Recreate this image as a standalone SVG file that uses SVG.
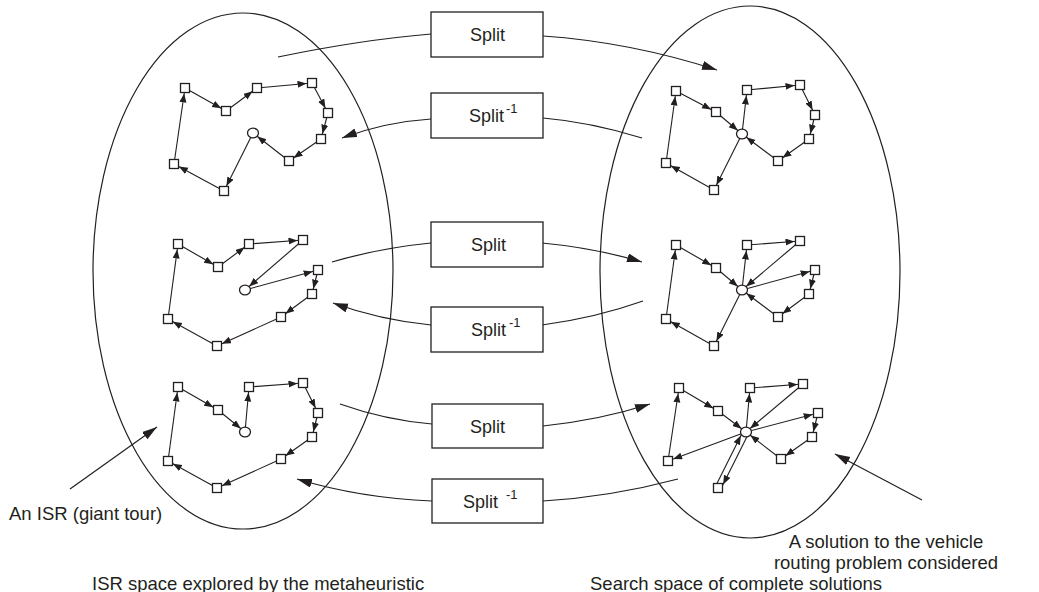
<svg xmlns="http://www.w3.org/2000/svg" width="1039" height="592" viewBox="0 0 1039 592">
<style>
  .ell { fill: none; stroke: #231f20; stroke-width: 1.2; }
  .box { fill: #fff; stroke: #231f20; stroke-width: 1.3; }
  .big { fill: none; stroke: #231f20; stroke-width: 1.2; }
  .e { stroke: #231f20; stroke-width: 1.1; marker-end: url(#ah); }
  .n { fill: #fff; stroke: #231f20; stroke-width: 1.3; }
  text { font-family: "Liberation Sans", Arial, sans-serif; fill: #231f20; }
  .lbl { font-size: 18px; }
  .cap { font-size: 18.5px; }
  .sup { font-size: 13px; }
</style>
<defs>
  <marker id="ah" markerWidth="16" markerHeight="8" refX="14.5" refY="3.5" orient="auto" markerUnits="userSpaceOnUse">
    <path d="M0,0 L9,3.5 L0,7 z" fill="#231f20"/>
  </marker>
  <marker id="big" markerWidth="16" markerHeight="10" refX="15" refY="4.5" orient="auto" markerUnits="userSpaceOnUse">
    <path d="M0,0 L15,4.5 L0,9 z" fill="#231f20"/>
  </marker>
</defs>
<rect width="1039" height="592" fill="#fff"/>

<g id="isr-space"><ellipse class="ell" cx="243" cy="271" rx="150" ry="258"/></g>
<g id="solution-space"><ellipse class="ell" cx="750" cy="272" rx="150" ry="266"/></g>

<g id="connectors">
  <!-- big curved arrows -->
  <path class="big" d="M278,57 Q360,40 431,34"/>
  <path class="big" d="M543,36 Q630,42 717,70" marker-end="url(#big)"/>
  <path class="big" d="M642,138 Q590,122 543,118"/>
  <path class="big" d="M431,119 Q385,122 342,138" marker-end="url(#big)"/>
  <path class="big" d="M332,262 Q380,248 431,243"/>
  <path class="big" d="M542,243 Q595,248 642,262" marker-end="url(#big)"/>
  <path class="big" d="M643,301 Q595,318 542,325"/>
  <path class="big" d="M431,325 Q380,320 333,303" marker-end="url(#big)"/>
  <path class="big" d="M340,404 Q385,420 432,424"/>
  <path class="big" d="M543,426 Q600,420 650,404" marker-end="url(#big)"/>
  <path class="big" d="M678,479 Q610,497 543,501"/>
  <path class="big" d="M432,501 Q360,498 297,479" marker-end="url(#big)"/>
  <line class="big" x1="70" y1="489" x2="157" y2="427" marker-end="url(#big)"/>
  <line class="big" x1="922" y1="500" x2="835" y2="454" marker-end="url(#big)"/>

  <!-- left tour 1 -->
  <line class="e" x1="185" y1="88" x2="226" y2="111"/>
  <line class="e" x1="226" y1="111" x2="257" y2="88"/>
  <line class="e" x1="257" y1="88" x2="312" y2="83"/>
  <line class="e" x1="312" y1="83" x2="328" y2="113"/>
  <line class="e" x1="328" y1="113" x2="321" y2="139"/>
  <line class="e" x1="321" y1="139" x2="289" y2="161"/>
  <line class="e" x1="289" y1="161" x2="253" y2="133"/>
  <line class="e" x1="253" y1="133" x2="224" y2="191"/>
  <line class="e" x1="224" y1="191" x2="174" y2="164"/>
  <line class="e" x1="174" y1="164" x2="185" y2="88"/>
  <!-- left tour 2 -->
  <line class="e" x1="178" y1="244" x2="218" y2="267"/>
  <line class="e" x1="218" y1="267" x2="249" y2="244"/>
  <line class="e" x1="249" y1="244" x2="303" y2="240"/>
  <line class="e" x1="303" y1="240" x2="245" y2="290"/>
  <line class="e" x1="245" y1="290" x2="318" y2="270"/>
  <line class="e" x1="318" y1="270" x2="312" y2="294"/>
  <line class="e" x1="312" y1="294" x2="281" y2="317"/>
  <line class="e" x1="281" y1="317" x2="217" y2="346"/>
  <line class="e" x1="217" y1="346" x2="168" y2="319"/>
  <line class="e" x1="168" y1="319" x2="178" y2="244"/>
  <!-- left tour 3 -->
  <line class="e" x1="178" y1="387" x2="218" y2="410"/>
  <line class="e" x1="218" y1="410" x2="245" y2="432"/>
  <line class="e" x1="245" y1="432" x2="249" y2="387"/>
  <line class="e" x1="249" y1="387" x2="303" y2="383"/>
  <line class="e" x1="303" y1="383" x2="318" y2="413"/>
  <line class="e" x1="318" y1="413" x2="312" y2="437"/>
  <line class="e" x1="312" y1="437" x2="281" y2="459"/>
  <line class="e" x1="281" y1="459" x2="217" y2="488"/>
  <line class="e" x1="217" y1="488" x2="168" y2="461"/>
  <line class="e" x1="168" y1="461" x2="178" y2="387"/>
  <!-- right tour 1 -->
  <line class="e" x1="676" y1="91" x2="716" y2="112"/>
  <line class="e" x1="716" y1="112" x2="742" y2="134"/>
  <line class="e" x1="742" y1="134" x2="747" y2="90"/>
  <line class="e" x1="747" y1="90" x2="800" y2="85"/>
  <line class="e" x1="800" y1="85" x2="815" y2="115"/>
  <line class="e" x1="815" y1="115" x2="809" y2="139"/>
  <line class="e" x1="809" y1="139" x2="778" y2="161"/>
  <line class="e" x1="778" y1="161" x2="742" y2="134"/>
  <line class="e" x1="742" y1="134" x2="714" y2="190"/>
  <line class="e" x1="714" y1="190" x2="666" y2="163"/>
  <line class="e" x1="666" y1="163" x2="676" y2="91"/>
  <!-- right tour 2 -->
  <line class="e" x1="676" y1="245" x2="716" y2="268"/>
  <line class="e" x1="716" y1="268" x2="742" y2="290"/>
  <line class="e" x1="742" y1="290" x2="747" y2="245"/>
  <line class="e" x1="747" y1="245" x2="800" y2="241"/>
  <line class="e" x1="800" y1="241" x2="742" y2="290"/>
  <line class="e" x1="742" y1="290" x2="815" y2="270"/>
  <line class="e" x1="815" y1="270" x2="809" y2="294"/>
  <line class="e" x1="809" y1="294" x2="778" y2="317"/>
  <line class="e" x1="778" y1="317" x2="742" y2="290"/>
  <line class="e" x1="742" y1="290" x2="714" y2="346"/>
  <line class="e" x1="714" y1="346" x2="666" y2="319"/>
  <line class="e" x1="666" y1="319" x2="676" y2="245"/>
  <!-- right tour 3 -->
  <line class="e" x1="679" y1="388" x2="718" y2="411"/>
  <line class="e" x1="718" y1="411" x2="746" y2="432"/>
  <line class="e" x1="746" y1="432" x2="750" y2="388"/>
  <line class="e" x1="750" y1="388" x2="803" y2="384"/>
  <line class="e" x1="803" y1="384" x2="746" y2="432"/>
  <line class="e" x1="746" y1="432" x2="818" y2="413"/>
  <line class="e" x1="818" y1="413" x2="812" y2="437"/>
  <line class="e" x1="812" y1="437" x2="781" y2="459"/>
  <line class="e" x1="781" y1="459" x2="746" y2="432"/>
  <line class="e" x1="746" y1="432" x2="668" y2="461"/>
  <line class="e" x1="668" y1="461" x2="679" y2="388"/>
  <line class="e" x1="715.3" y1="486.7" x2="743.3" y2="430.7"/>
  <line class="e" x1="748.7" y1="433.3" x2="720.7" y2="489.3"/>
</g>

<g id="split-1">
  <rect class="box" x="431" y="12" width="112" height="45"/>
  <text class="lbl" x="470" y="41">Split</text>
</g>
<g id="split-inv-1">
  <rect class="box" x="431" y="93" width="112" height="45"/>
  <text class="lbl" x="469" y="122">Split<tspan class="sup" x="506" dy="-9">-1</tspan></text>
</g>
<g id="split-2">
  <rect class="box" x="431" y="222" width="112" height="45"/>
  <text class="lbl" x="471" y="251">Split</text>
</g>
<g id="split-inv-2">
  <rect class="box" x="431" y="307" width="112" height="45"/>
  <text class="lbl" x="471" y="336">Split<tspan class="sup" x="509" dy="-9">-1</tspan></text>
</g>
<g id="split-3">
  <rect class="box" x="432" y="404" width="111" height="44"/>
  <text class="lbl" x="470" y="433">Split</text>
</g>
<g id="split-inv-3">
  <rect class="box" x="432" y="479" width="111" height="44"/>
  <text class="lbl" x="463" y="508">Split<tspan class="sup" x="506" dy="-9">-1</tspan></text>
</g>

<g id="tour-L1">
  <rect class="n" x="180.5" y="83.5" width="9" height="9"/>
  <rect class="n" x="221.5" y="106.5" width="9" height="9"/>
  <rect class="n" x="252.5" y="83.5" width="9" height="9"/>
  <rect class="n" x="307.5" y="78.5" width="9" height="9"/>
  <rect class="n" x="323.5" y="108.5" width="9" height="9"/>
  <rect class="n" x="316.5" y="134.5" width="9" height="9"/>
  <rect class="n" x="284.5" y="156.5" width="9" height="9"/>
  <rect class="n" x="219.5" y="186.5" width="9" height="9"/>
  <rect class="n" x="169.5" y="159.5" width="9" height="9"/>
  <ellipse class="n" cx="253" cy="133" rx="5.5" ry="4.8"/>
</g>
<g id="tour-L2">
  <rect class="n" x="173.5" y="239.5" width="9" height="9"/>
  <rect class="n" x="213.5" y="262.5" width="9" height="9"/>
  <rect class="n" x="244.5" y="239.5" width="9" height="9"/>
  <rect class="n" x="298.5" y="235.5" width="9" height="9"/>
  <rect class="n" x="313.5" y="265.5" width="9" height="9"/>
  <rect class="n" x="307.5" y="289.5" width="9" height="9"/>
  <rect class="n" x="276.5" y="312.5" width="9" height="9"/>
  <rect class="n" x="212.5" y="341.5" width="9" height="9"/>
  <rect class="n" x="163.5" y="314.5" width="9" height="9"/>
  <ellipse class="n" cx="245" cy="290" rx="5.5" ry="4.8"/>
</g>
<g id="tour-L3">
  <rect class="n" x="173.5" y="382.5" width="9" height="9"/>
  <rect class="n" x="213.5" y="405.5" width="9" height="9"/>
  <rect class="n" x="244.5" y="382.5" width="9" height="9"/>
  <rect class="n" x="298.5" y="378.5" width="9" height="9"/>
  <rect class="n" x="313.5" y="408.5" width="9" height="9"/>
  <rect class="n" x="307.5" y="432.5" width="9" height="9"/>
  <rect class="n" x="276.5" y="454.5" width="9" height="9"/>
  <rect class="n" x="212.5" y="483.5" width="9" height="9"/>
  <rect class="n" x="163.5" y="456.5" width="9" height="9"/>
  <ellipse class="n" cx="245" cy="432" rx="5.5" ry="4.8"/>
</g>
<g id="tour-R1">
  <rect class="n" x="671.5" y="86.5" width="9" height="9"/>
  <rect class="n" x="711.5" y="107.5" width="9" height="9"/>
  <rect class="n" x="742.5" y="85.5" width="9" height="9"/>
  <rect class="n" x="795.5" y="80.5" width="9" height="9"/>
  <rect class="n" x="810.5" y="110.5" width="9" height="9"/>
  <rect class="n" x="804.5" y="134.5" width="9" height="9"/>
  <rect class="n" x="773.5" y="156.5" width="9" height="9"/>
  <rect class="n" x="709.5" y="185.5" width="9" height="9"/>
  <rect class="n" x="661.5" y="158.5" width="9" height="9"/>
  <ellipse class="n" cx="742" cy="134" rx="5.5" ry="4.8"/>
</g>
<g id="tour-R2">
  <rect class="n" x="671.5" y="240.5" width="9" height="9"/>
  <rect class="n" x="711.5" y="263.5" width="9" height="9"/>
  <rect class="n" x="742.5" y="240.5" width="9" height="9"/>
  <rect class="n" x="795.5" y="236.5" width="9" height="9"/>
  <rect class="n" x="810.5" y="265.5" width="9" height="9"/>
  <rect class="n" x="804.5" y="289.5" width="9" height="9"/>
  <rect class="n" x="773.5" y="312.5" width="9" height="9"/>
  <rect class="n" x="709.5" y="341.5" width="9" height="9"/>
  <rect class="n" x="661.5" y="314.5" width="9" height="9"/>
  <ellipse class="n" cx="742" cy="290" rx="5.5" ry="4.8"/>
</g>
<g id="tour-R3">
  <rect class="n" x="674.5" y="383.5" width="9" height="9"/>
  <rect class="n" x="713.5" y="406.5" width="9" height="9"/>
  <rect class="n" x="745.5" y="383.5" width="9" height="9"/>
  <rect class="n" x="798.5" y="379.5" width="9" height="9"/>
  <rect class="n" x="813.5" y="408.5" width="9" height="9"/>
  <rect class="n" x="807.5" y="432.5" width="9" height="9"/>
  <rect class="n" x="776.5" y="454.5" width="9" height="9"/>
  <rect class="n" x="713.5" y="483.5" width="9" height="9"/>
  <rect class="n" x="663.5" y="456.5" width="9" height="9"/>
  <ellipse class="n" cx="746" cy="432" rx="5.5" ry="4.8"/>
</g>

<g id="labels">
  <text class="cap" x="9" y="520">An ISR (giant tour)</text>
  <text class="cap" x="886" y="548" text-anchor="middle">A solution to the vehicle</text>
  <text class="cap" x="886" y="569" text-anchor="middle">routing problem considered</text>
  <text class="cap" x="92" y="590">ISR space explored by the metaheuristic</text>
  <text class="cap" x="590" y="590">Search space of complete solutions</text>
</g>
</svg>
